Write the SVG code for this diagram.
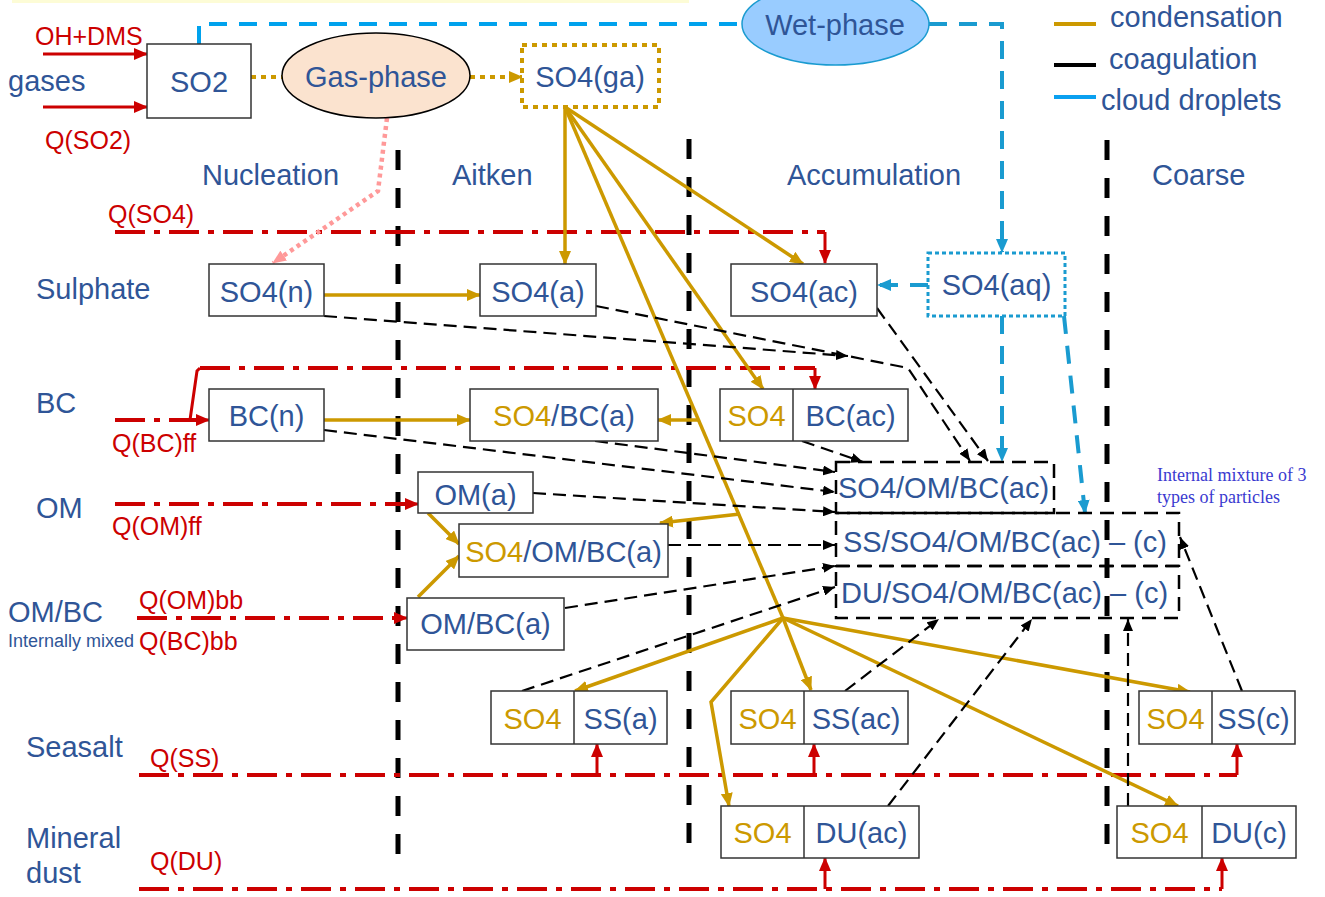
<svg xmlns="http://www.w3.org/2000/svg" width="1325" height="897" viewBox="0 0 1325 897">
<style>
.t{font-family:"Liberation Sans",Arial,sans-serif;font-size:29px;fill:#2f5597}
.c{text-anchor:middle}
.g{fill:#cc9900}
.r{font-family:"Liberation Sans",Arial,sans-serif;font-size:25px;fill:#cc0000}
.box{fill:#fff;stroke:#333;stroke-width:1.5}
.cond{stroke:#cc9900;stroke-width:3.5;fill:none}
.coag{stroke:#000;stroke-width:2.2;fill:none;stroke-dasharray:13 7}
.emit{stroke:#cc0000;stroke-width:4;fill:none;stroke-dasharray:30 9 6 9}
.rs{stroke:#cc0000;stroke-width:3;fill:none}
.div{stroke:#000;stroke-width:5;fill:none;stroke-dasharray:20 18}
.mix{fill:none;stroke:#000;stroke-width:2.5;stroke-dasharray:14 8}
.note{font-family:"Liberation Serif","Times New Roman",serif;font-size:18px;fill:#3a3ad0}
</style>
<defs>
<marker id="ag" markerUnits="userSpaceOnUse" markerWidth="14" markerHeight="12" refX="13" refY="6" orient="auto"><path d="M0,0 L14,6 L0,12 z" fill="#cc9900"/></marker>
<marker id="ak" markerUnits="userSpaceOnUse" markerWidth="12" markerHeight="10" refX="12" refY="5" orient="auto"><path d="M0,0 L12,5 L0,10 z" fill="#000"/></marker>
<marker id="ar" markerUnits="userSpaceOnUse" markerWidth="14" markerHeight="12" refX="13" refY="6" orient="auto"><path d="M0,0 L14,6 L0,12 z" fill="#cc0000"/></marker>
<marker id="ab" markerUnits="userSpaceOnUse" markerWidth="14" markerHeight="12" refX="13" refY="6" orient="auto"><path d="M0,0 L14,6 L0,12 z" fill="#1a9bd0"/></marker>
<marker id="ap" markerUnits="userSpaceOnUse" markerWidth="14" markerHeight="12" refX="13" refY="6" orient="auto"><path d="M0,0 L14,6 L0,12 z" fill="#ff9999"/></marker>
</defs>
<rect x="12" y="-10" width="677" height="13" fill="#fdfcd6"/>

<g id="dividers">
<line class="div" x1="398" y1="150" x2="398" y2="868"/>
<line class="div" x1="689" y1="139" x2="689" y2="858"/>
<line class="div" x1="1107" y1="140" x2="1107" y2="858"/>
</g>

<g id="headers">
<text class="t" x="202" y="185">Nucleation</text>
<text class="t" x="452" y="185">Aitken</text>
<text class="t" x="787" y="185">Accumulation</text>
<text class="t" x="1152" y="185">Coarse</text>
<text class="t" x="36" y="299">Sulphate</text>
<text class="t" x="36" y="413">BC</text>
<text class="t" x="36" y="518">OM</text>
<text class="t" x="8" y="622">OM/BC</text>
<text class="t" x="8" y="647" style="font-size:18px">Internally mixed</text>
<text class="t" x="26" y="757">Seasalt</text>
<text class="t" x="26" y="848">Mineral</text>
<text class="t" x="26" y="883">dust</text>
<text class="t" x="8" y="91">gases</text>
<text class="r" x="35" y="45">OH+DMS</text>
<text class="r" x="45" y="149">Q(SO2)</text>
<text class="r" x="108" y="223">Q(SO4)</text>
<text class="r" x="112" y="452">Q(BC)ff</text>
<text class="r" x="112" y="535">Q(OM)ff</text>
<text class="r" x="139" y="609">Q(OM)bb</text>
<text class="r" x="139" y="650">Q(BC)bb</text>
<text class="r" x="150" y="767">Q(SS)</text>
<text class="r" x="150" y="870">Q(DU)</text>
</g>

<g id="legend">
<line x1="1054" y1="24" x2="1096" y2="24" stroke="#cc9900" stroke-width="4"/>
<line x1="1054" y1="65" x2="1096" y2="65" stroke="#000" stroke-width="4"/>
<line x1="1054" y1="97" x2="1096" y2="97" stroke="#0aa0f0" stroke-width="4"/>
<text class="t" x="1110" y="27">condensation</text>
<text class="t" x="1109" y="69">coagulation</text>
<text class="t" x="1101" y="110">cloud droplets</text>
</g>

<g id="connectors">
<line class="rs" x1="43" y1="54" x2="147" y2="54" stroke-width="4" marker-end="url(#ar)"/>
<line class="rs" x1="43" y1="107" x2="147" y2="107" stroke-width="4" marker-end="url(#ar)"/>
<polyline class="emit" points="115,232 825,232"/>
<line class="rs" x1="825" y1="232" x2="825" y2="263" marker-end="url(#ar)"/>
<line class="emit" x1="115" y1="420" x2="200" y2="420"/>
<line class="rs" x1="195" y1="420" x2="209" y2="420" marker-end="url(#ar)"/>
<polyline class="rs" stroke-width="4" points="190,420 197,371 200,368"/>
<line class="emit" x1="200" y1="368" x2="815" y2="368"/>
<line class="rs" x1="815" y1="368" x2="815" y2="389" marker-end="url(#ar)"/>
<line class="emit" x1="115" y1="504" x2="405" y2="504"/>
<line class="rs" x1="400" y1="504" x2="418" y2="504" marker-end="url(#ar)"/>
<line class="emit" x1="137" y1="618" x2="395" y2="618"/>
<line class="rs" x1="392" y1="618" x2="407" y2="618" marker-end="url(#ar)"/>
<line class="emit" x1="139" y1="775" x2="1237" y2="775"/>
<line class="rs" x1="597" y1="775" x2="597" y2="744" marker-end="url(#ar)"/>
<line class="rs" x1="814" y1="775" x2="814" y2="744" marker-end="url(#ar)"/>
<line class="rs" x1="1237" y1="775" x2="1237" y2="744" marker-end="url(#ar)"/>
<line class="emit" x1="139" y1="889" x2="1222" y2="889"/>
<line class="rs" x1="825" y1="889" x2="825" y2="858" marker-end="url(#ar)"/>
<line class="rs" x1="1222" y1="889" x2="1222" y2="858" marker-end="url(#ar)"/>

<polyline points="199,44 199,24 742,24" fill="none" stroke="#00a2ed" stroke-width="4" stroke-dasharray="18 12"/>
<polyline points="929,24 1002,24 1002,252" fill="none" stroke="#1a9bd0" stroke-width="4" stroke-dasharray="18 12" marker-end="url(#ab)"/>
<line x1="928" y1="285" x2="878" y2="285" stroke="#1a9bd0" stroke-width="4" stroke-dasharray="18 12" marker-end="url(#ab)"/>
<line x1="1002" y1="316" x2="1002" y2="461" stroke="#1a9bd0" stroke-width="4" stroke-dasharray="18 12" marker-end="url(#ab)"/>
<line x1="1064" y1="316" x2="1085" y2="513" stroke="#1a9bd0" stroke-width="4" stroke-dasharray="18 12" marker-end="url(#ab)"/>

<line x1="251" y1="77" x2="282" y2="77" stroke="#cc9900" stroke-width="4" stroke-dasharray="5 5"/>
<line x1="470" y1="77" x2="522" y2="77" stroke="#cc9900" stroke-width="4" stroke-dasharray="5 5" marker-end="url(#ag)"/>
<polyline points="387,118 378,191 273,263" fill="none" stroke="#ff9999" stroke-width="4.5" stroke-dasharray="4 4" marker-end="url(#ap)"/>

<line class="cond" x1="565" y1="107" x2="565" y2="264" marker-end="url(#ag)"/>
<line class="cond" x1="565" y1="107" x2="803" y2="264" marker-end="url(#ag)"/>
<line class="cond" x1="565" y1="107" x2="763" y2="389" marker-end="url(#ag)"/>
<line class="cond" x1="565" y1="107" x2="783" y2="618"/>
<line class="cond" x1="698" y1="420" x2="658" y2="420" marker-end="url(#ag)"/>
<line class="cond" x1="740" y1="514" x2="660" y2="523" marker-end="url(#ag)"/>
<line class="cond" x1="324" y1="295" x2="480" y2="295" marker-end="url(#ag)"/>
<line class="cond" x1="324" y1="420" x2="470" y2="420" marker-end="url(#ag)"/>
<line class="cond" x1="428" y1="513" x2="459" y2="544" marker-end="url(#ag)"/>
<line class="cond" x1="418" y1="597" x2="459" y2="556" marker-end="url(#ag)"/>
<line class="cond" x1="783" y1="618" x2="575" y2="691" marker-end="url(#ag)"/>
<line class="cond" x1="783" y1="618" x2="811" y2="690" marker-end="url(#ag)"/>
<polyline class="cond" points="783,618 711,702 729,806" marker-end="url(#ag)"/>
<line class="cond" x1="783" y1="618" x2="1190" y2="692" marker-end="url(#ag)"/>
<line class="cond" x1="783" y1="618" x2="1178" y2="806" marker-end="url(#ag)"/>

<line class="coag" x1="324" y1="316" x2="848" y2="356" marker-end="url(#ak)"/>
<polyline class="coag" points="596,306 908,368 970,461" marker-end="url(#ak)"/>
<line class="coag" x1="877" y1="308" x2="988" y2="461" marker-end="url(#ak)"/>
<line class="coag" x1="802" y1="441" x2="863" y2="462" marker-end="url(#ak)"/>
<line class="coag" x1="595" y1="441" x2="835" y2="472" marker-end="url(#ak)"/>
<line class="coag" x1="324" y1="430" x2="835" y2="492" marker-end="url(#ak)"/>
<line class="coag" x1="533" y1="493" x2="835" y2="512" marker-end="url(#ak)"/>
<line class="coag" x1="668" y1="545" x2="835" y2="545" marker-end="url(#ak)"/>
<line class="coag" x1="565" y1="608" x2="835" y2="566" marker-end="url(#ak)"/>
<line class="coag" x1="522" y1="691" x2="835" y2="587" marker-end="url(#ak)"/>
<line class="coag" x1="845" y1="691" x2="939" y2="619" marker-end="url(#ak)"/>
<line class="coag" x1="888" y1="806" x2="1032" y2="619" marker-end="url(#ak)"/>
<line class="coag" x1="1128" y1="806" x2="1128" y2="619" marker-end="url(#ak)"/>
<line class="coag" x1="1242" y1="691" x2="1180" y2="537" marker-end="url(#ak)"/>
</g>

<g id="SO2"><rect class="box" x="147" y="44" width="104" height="74"/><text class="t c" x="199" y="92">SO2</text></g>
<g id="gasphase"><ellipse cx="376" cy="75.5" rx="94" ry="42.5" fill="#fbe3cf" stroke="#000" stroke-width="1.5"/><text class="t c" x="376" y="87">Gas-phase</text></g>
<g id="wetphase"><ellipse cx="835.5" cy="24" rx="93.5" ry="41" fill="#99ccff" stroke="#1a9bd0" stroke-width="1.5"/><text class="t c" x="835" y="35">Wet-phase</text></g>
<g id="SO4ga"><rect x="522" y="45" width="137" height="62" fill="#fff" stroke="#cc9900" stroke-width="4" stroke-dasharray="5 5"/><text class="t c" x="590" y="87">SO4(ga)</text></g>
<g id="SO4aq"><rect x="928" y="253" width="137" height="63" fill="#fff" stroke="#1a9bd0" stroke-width="3" stroke-dasharray="4 3"/><text class="t c" x="996.5" y="295">SO4(aq)</text></g>

<g id="SO4n"><rect class="box" x="209" y="264" width="115" height="52"/><text class="t c" x="266.5" y="302">SO4(n)</text></g>
<g id="SO4a"><rect class="box" x="480" y="264" width="116" height="52"/><text class="t c" x="538" y="302">SO4(a)</text></g>
<g id="SO4ac"><rect class="box" x="731" y="264" width="146" height="52"/><text class="t c" x="804" y="302">SO4(ac)</text></g>

<g id="BCn"><rect class="box" x="209" y="389" width="115" height="52"/><text class="t c" x="266.5" y="426">BC(n)</text></g>
<g id="SO4BCa"><rect class="box" x="470" y="389" width="188" height="52"/><text class="t c" x="564" y="426"><tspan class="g">SO4</tspan>/BC(a)</text></g>
<g id="BCac"><rect class="box" x="720" y="389" width="188" height="52"/><line x1="793" y1="389" x2="793" y2="441" stroke="#333" stroke-width="1.5"/><text class="t c g" x="756.5" y="426">SO4</text><text class="t c" x="850.5" y="426">BC(ac)</text></g>

<g id="OMa"><rect class="box" x="418" y="472" width="115" height="41"/><text class="t c" x="475.5" y="505">OM(a)</text></g>
<g id="SO4OMBCa"><rect class="box" x="459" y="524" width="209" height="53"/><text class="t c" x="563.5" y="562"><tspan class="g">SO4</tspan>/OM/BC(a)</text></g>
<g id="OMBCa"><rect class="box" x="407" y="598" width="157" height="52"/><text class="t c" x="485.5" y="634">OM/BC(a)</text></g>

<g id="mixtures">
<rect class="mix" x="836" y="462" width="218" height="51"/>
<rect class="mix" x="836" y="513" width="343" height="53"/>
<rect class="mix" x="836" y="566" width="343" height="52"/>
<text class="t" x="838" y="498">SO4/OM/BC(ac)</text>
<text class="t" x="843" y="552">SS/SO4/OM/BC(ac) – (c)</text>
<text class="t" x="841" y="603">DU/SO4/OM/BC(ac) – (c)</text>
<text class="note" x="1157" y="481">Internal mixture of 3</text>
<text class="note" x="1157" y="503">types of particles</text>
</g>

<g id="SSa"><rect class="box" x="491" y="691" width="176" height="53"/><line x1="574" y1="691" x2="574" y2="744" stroke="#333" stroke-width="1.5"/><text class="t c g" x="532.5" y="729">SO4</text><text class="t c" x="620.5" y="729">SS(a)</text></g>
<g id="SSac"><rect class="box" x="731" y="691" width="177" height="53"/><line x1="804" y1="691" x2="804" y2="744" stroke="#333" stroke-width="1.5"/><text class="t c g" x="767.5" y="729">SO4</text><text class="t c" x="856" y="729">SS(ac)</text></g>
<g id="DUac"><rect class="box" x="721" y="806" width="198" height="52"/><line x1="804" y1="806" x2="804" y2="858" stroke="#333" stroke-width="1.5"/><text class="t c g" x="762.5" y="843">SO4</text><text class="t c" x="861.5" y="843">DU(ac)</text></g>
<g id="SSc"><rect class="box" x="1139" y="691" width="156" height="53"/><line x1="1212" y1="691" x2="1212" y2="744" stroke="#333" stroke-width="1.5"/><text class="t c g" x="1175.5" y="729">SO4</text><text class="t c" x="1253.5" y="729">SS(c)</text></g>
<g id="DUc"><rect class="box" x="1117" y="806" width="179" height="52"/><line x1="1202" y1="806" x2="1202" y2="858" stroke="#333" stroke-width="1.5"/><text class="t c g" x="1159.5" y="843">SO4</text><text class="t c" x="1249" y="843">DU(c)</text></g>
</svg>
